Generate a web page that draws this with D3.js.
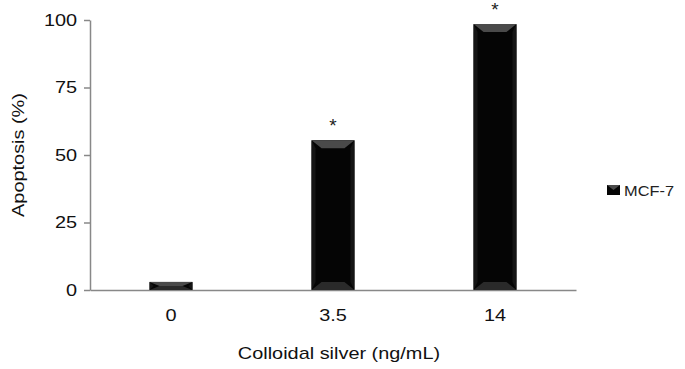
<!DOCTYPE html>
<html>
<head>
<meta charset="utf-8">
<script src="https://cdn.jsdelivr.net/npm/d3@7"></script>
<style>
  body { margin: 0; background: #fff; }
  svg { font-family: "Liberation Sans", Arial, sans-serif; }
</style>
</head>
<body>
<svg id="chart"></svg>
<script>
const categories = ["0", "3.5", "14"];
const apoptosis = [3, 55.5, 98.5];
const significant = [false, true, true];
const yTicks = [0, 25, 50, 75, 100];
const seriesName = "MCF-7";

const width = 685, height = 369;
const margin = { top: 20, left: 90, bottom: 79, right: 109 };
const stretch = 1.17; // the original text is a bit wide

const svg = d3.select("#chart")
    .attr("width", width)
    .attr("height", height);

const x = d3.scaleBand()
    .domain(categories)
    .range([margin.left, width - margin.right])
    .paddingInner(0.735)
    .paddingOuter(0.3675);

const y = d3.scaleLinear()
    .domain([0, 100])
    .range([height - margin.bottom, margin.top]);

// axes
const yAxis = svg.append("g")
    .attr("transform", `translate(${margin.left},0)`)
    .call(d3.axisLeft(y).tickValues(yTicks).tickSize(6).tickPadding(5).tickSizeOuter(0));
yAxis.select(".domain").attr("stroke", "#888").attr("stroke-width", 1.5);
yAxis.selectAll(".tick line").attr("stroke", "#888").attr("stroke-width", 1.5);
yAxis.selectAll("text")
    .attr("font-size", 17).attr("fill", "#111")
    .attr("transform", `scale(${stretch},1)`);

const xAxis = svg.append("g")
    .attr("transform", `translate(0,${y(0)})`)
    .call(d3.axisBottom(x).tickSize(0).tickPadding(19).tickSizeOuter(0));
xAxis.select(".domain").attr("stroke", "#888").attr("stroke-width", 1.5);
xAxis.selectAll("text")
    .attr("font-size", 17).attr("fill", "#111")
    .attr("transform", `scale(${stretch},1)`);

// bevelled bars
const bars = svg.append("g");
categories.forEach((c, i) => {
    const x0 = x(c), w = x.bandwidth();
    const y0 = y(apoptosis[i]), y1 = y(0);
    const h = y1 - y0;
    const bv = Math.min(8, h / 2);
    const bs = Math.min(4, w / 2);
    const g = bars.append("g");
    g.append("rect")
        .attr("x", x0).attr("y", y0)
        .attr("width", w).attr("height", h)
        .attr("fill", "#050505");
    // side bevels
    g.append("polygon")
        .attr("points", [[x0, y0], [x0 + bs, y0 + bv], [x0 + bs, y1 - bv], [x0, y1]].map(p => p.join(",")).join(" "))
        .attr("fill", "#151515");
    g.append("polygon")
        .attr("points", [[x0 + w, y0], [x0 + w - bs, y0 + bv], [x0 + w - bs, y1 - bv], [x0 + w, y1]].map(p => p.join(",")).join(" "))
        .attr("fill", "#151515");
    // top bevel
    g.append("polygon")
        .attr("points", [[x0, y0], [x0 + w, y0], [x0 + w - bs * 2.5, y0 + bv], [x0 + bs * 2.5, y0 + bv]].map(p => p.join(",")).join(" "))
        .attr("fill", "#4a4a4a");
    // bottom bevel
    g.append("polygon")
        .attr("points", [[x0, y1], [x0 + w, y1], [x0 + w - bs * 2.5, y1 - bv], [x0 + bs * 2.5, y1 - bv]].map(p => p.join(",")).join(" "))
        .attr("fill", "#2a2a2a");

    if (significant[i]) {
        svg.append("text")
            .attr("x", x0 + w / 2)
            .attr("y", y0 - 8)
            .attr("text-anchor", "middle")
            .attr("font-size", 19)
            .attr("fill", "#222")
            .text("*");
    }
});

// axis titles
const cx = (margin.left + width - margin.right) / 2 + 6;
svg.append("text")
    .attr("transform", `translate(${cx},359) scale(${stretch},1)`)
    .attr("text-anchor", "middle")
    .attr("font-size", 17)
    .attr("fill", "#111")
    .text("Colloidal silver (ng/mL)");

svg.append("text")
    .attr("transform", `translate(24,${(margin.top + height - margin.bottom) / 2}) rotate(-90) scale(${stretch},1)`)
    .attr("text-anchor", "middle")
    .attr("font-size", 17)
    .attr("fill", "#111")
    .text("Apoptosis (%)");

// legend
const legend = svg.append("g").attr("transform", "translate(607,185)");
legend.append("rect").attr("width", 13).attr("height", 10).attr("fill", "#050505");
legend.append("polygon").attr("points", "0,0 13,0 6.5,5").attr("fill", "#4a4a4a");
legend.append("text")
    .attr("transform", `translate(17,11) scale(${stretch},1)`)
    .attr("font-size", 14)
    .attr("fill", "#222")
    .text(seriesName);
</script>
</body>
</html>
